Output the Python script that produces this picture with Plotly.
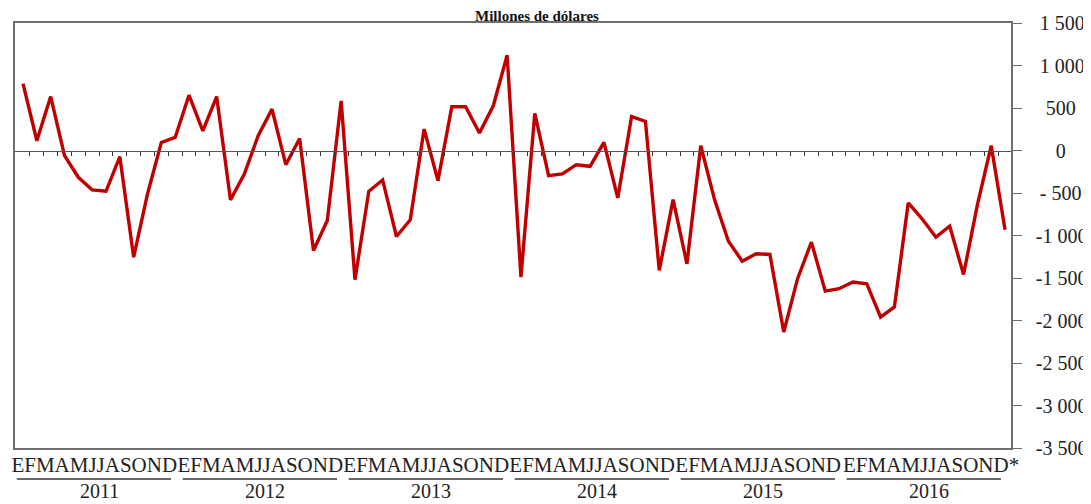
import plotly.graph_objects as go

# Monthly balance, millions of dollars, Jan 2011 - Dec 2016
years = [2011, 2012, 2013, 2014, 2015, 2016]
month_letters = "EFMAMJJASOND"
values = [
    787, 115, 634, -60, -315, -464, -480, -73, -1255, -511, 95, 154,
    651, 232, 635, -581, -276, 174, 487, -167, 142, -1176, -824, 584,
    -1520, -480, -346, -1012, -816, 252, -354, 514, 514, 205, 526, 1121,
    -1489, 436, -296, -276, -167, -186, 95, -558, 401, 342, -1411, -577,
    -1333, 56, -581, -1067, -1302, -1215, -1223, -2135, -1508, -1078, -1654, -1626,
    -1548, -1567, -1959, -1841, -617, -804, -1020, -891, -1458, -640, 56, -933,
]
y_ticks = [1500, 1000, 500, 0, -500, -1000, -1500, -2000, -2500, -3000, -3500]
# unicode spaces roughly centre the labels like the source
y_ticktext = ["\u20091 500", "\u20091 000", "\u2002500", "\u20030", "\u2009- 500", "-1 000",
              "-1 500", "-2 000", "-2 500", "-3 000", "-3 500"]

x = list(range(len(values)))

# one string of month initials per year, last one marked preliminary
month_labels = [month_letters for _ in years]
month_labels[-1] = month_letters + "*"
month_pos = [k * 12 + 5.5 - 0.35 for k in range(len(years))]
month_pos[-1] += 0.5

serif = "Liberation Serif, Times New Roman, serif"
axis_grey = "#6f6f6f"
x_range = [-0.58, 71.43]
y_range = [-3500, 1500]

fig = go.Figure()
fig.add_trace(go.Scatter(x=x, y=values, mode="lines",
                         line=dict(color="#c00000", width=3.4),
                         showlegend=False, hoverinfo="skip"))
# empty trace so the zero-line axis (x2) gets drawn
fig.add_trace(go.Scatter(x=[], y=[], xaxis="x2", yaxis="y", mode="lines",
                         showlegend=False, hoverinfo="skip"))

fig.update_layout(
    width=1083, height=496,
    margin=dict(l=4, r=79, t=14, b=56),
    paper_bgcolor="white", plot_bgcolor="white",
    font=dict(family=serif, color="#222222"),
    xaxis=dict(range=x_range, showgrid=False, zeroline=False,
               showline=True, linecolor=axis_grey, linewidth=1.5, mirror=True,
               tickmode="array", tickvals=month_pos, ticktext=month_labels,
               tickangle=0, ticks="", ticklabelstandoff=-3,
               tickfont=dict(family=serif, size=21, color="#222222")),
    # zero line with month separators
    xaxis2=dict(range=x_range, overlaying="x", anchor="free", position=0.7,
                side="bottom", showgrid=False, zeroline=False,
                showline=True, linecolor="#555555", linewidth=1.3,
                tickmode="array", tickvals=[i + 0.5 for i in x[:-1]],
                ticks="outside", ticklen=4, tickwidth=1.3, tickcolor="#333333",
                showticklabels=False),
    yaxis=dict(range=y_range, side="right", showgrid=False, zeroline=False,
               showline=True, linecolor=axis_grey, linewidth=1.5, mirror=True,
               tickmode="array", tickvals=y_ticks, ticktext=y_ticktext,
               ticks="outside", ticklen=9, tickwidth=1.3, tickcolor=axis_grey,
               ticklabelstandoff=10,
               tickfont=dict(family=serif, size=20, color="#222222")),
)

fig.add_annotation(text="<b>Millones de dólares</b>", xref="paper", yref="paper",
                   x=0.524, y=1.041, xanchor="center", yanchor="top",
                   showarrow=False, font=dict(family=serif, size=15, color="#111111"))

# year labels with underlines
for k, yr in enumerate(years):
    start = k * 12
    fig.add_shape(type="line", xref="x", yref="paper",
                  x0=start - 0.45, x1=start + 10.7, y0=-0.073, y1=-0.073,
                  line=dict(color="#333333", width=1.6))
    fig.add_annotation(text=str(yr), xref="x", yref="paper",
                       x=start + 5.5, y=-0.1315, xanchor="center", yanchor="bottom",
                       showarrow=False, font=dict(family=serif, size=20, color="#222222"))

fig.write_html("out.html")
